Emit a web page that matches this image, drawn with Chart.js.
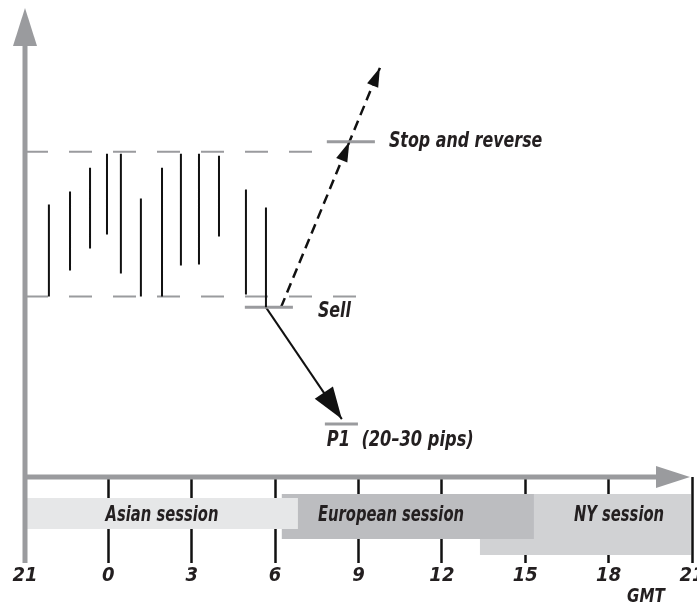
<!DOCTYPE html>
<html>
<head>
<meta charset="utf-8">
<script src="https://cdn.jsdelivr.net/npm/chart.js@4.4.0/dist/chart.umd.min.js"></script>
<style>
  html, body { margin: 0; padding: 0; background: #fff; }
  #wrap { width: 697px; height: 608px; }
</style>
</head>
<body>
<div id="wrap"><canvas id="chart"></canvas></div>
<script>
// x = hours after 21:00 GMT, y = price level (arbitrary units)
const hourTicks = [0, 3, 6, 9, 12, 15, 18, 21, 24];
const hourLabels = ['21', '0', '3', '6', '9', '12', '15', '18', '21'];

// Asian session price bars
const barHours = [0.86, 1.62, 2.34, 2.95, 3.45, 4.17, 4.93, 5.61, 6.26, 6.98, 7.95, 8.67];
const barHighs = [54.6, 57.2, 62.0, 64.8, 64.8, 55.8, 62.0, 64.8, 64.8, 64.4, 57.6, 54.0];
const barLows  = [36.2, 41.4, 45.8, 48.6, 40.8, 36.2, 36.2, 42.4, 42.6, 48.2, 36.6, 34.0];

// range box (dashed)
const rangeHigh = 65.2;
const rangeLow = 36.2;
const rangeHighEnd = 10.7;
const rangeLowEnd = 12.3;

// trade levels
const levelNames = ['Stop and reverse', 'Sell', 'P1  (20\u201330 pips)'];
const levelValues = [67.2, 34.0, 10.6];
const levelFrom = [10.86, 7.91, 10.79];
const levelTo = [12.59, 9.64, 11.98];

// arrows
const reverseX = [9.21, 12.77];
const reverseY = [34.0, 82.0];
const targetX = [8.67, 11.40];
const targetY = [34.0, 11.6];

// sessions
const sessionNames = ['Asian session', 'European session', 'NY session'];
const sessionStart = [0.0, 9.24, 16.37];
const sessionEnd = [9.82, 18.31, 23.96];
const sessionColors = ['#e6e7e8', '#bcbdc0', '#d1d2d4'];

const FONT = "'DejaVu Sans Condensed', 'DejaVu Sans', sans-serif";
const GRAY = '#9a9b9e';
const INK = '#231f20';

function pts(xs, ys) {
    return xs.map((x, i) => ({ x: x, y: ys[i] }));
}

const barData = [];
barHours.forEach((h, i) => {
    barData.push({ x: h, y: barHighs[i] }, { x: h, y: barLows[i] }, { x: h, y: null });
});

const levelData = [];
levelValues.forEach((v, i) => {
    levelData.push({ x: levelFrom[i], y: v }, { x: levelTo[i], y: v }, { x: levelTo[i], y: null });
});

function arrowHead(ctx, x1, y1, x2, y2, len, half) {
    const a = Math.atan2(y2 - y1, x2 - x1);
    ctx.beginPath();
    ctx.moveTo(x2, y2);
    ctx.lineTo(x2 - len * Math.cos(a) + half * Math.sin(a), y2 - len * Math.sin(a) - half * Math.cos(a));
    ctx.lineTo(x2 - len * Math.cos(a) - half * Math.sin(a), y2 - len * Math.sin(a) + half * Math.cos(a));
    ctx.closePath();
    ctx.fill();
}

// condensed bold italic text
function label(ctx, text, x, y, size, align, sx) {
    ctx.save();
    ctx.translate(x, y);
    ctx.scale(sx, 1);
    ctx.font = 'italic bold ' + size + 'px ' + FONT;
    ctx.textAlign = align;
    ctx.textBaseline = 'middle';
    ctx.fillStyle = INK;
    ctx.fillText(text, 0, 0);
    ctx.restore();
}

const decorPlugin = {
    id: 'decor',
    afterDatasetsDraw(chart) {
        const ctx = chart.ctx;
        const xs = chart.scales.x, ys = chart.scales.y;
        const area = chart.chartArea;
        const x0 = xs.getPixelForValue(0);
        const y0 = ys.getPixelForValue(0);
        ctx.save();

        // session bands (NY at the back, Asian in front)
        const bandTop = [y0 + 21, y0 + 17, y0 + 17];
        const bandBot = [y0 + 52, y0 + 62, y0 + 78];
        [2, 1, 0].forEach(i => {
            const l = xs.getPixelForValue(sessionStart[i]);
            const r = xs.getPixelForValue(sessionEnd[i]);
            ctx.fillStyle = sessionColors[i];
            ctx.fillRect(l, bandTop[i], r - l, bandBot[i] - bandTop[i]);
        });
        const labelX = [162, 391, 619];
        sessionNames.forEach((s, i) => label(ctx, s, labelX[i], y0 + 39, 21, 'center', 0.78));

        // axes
        ctx.strokeStyle = GRAY;
        ctx.fillStyle = GRAY;
        ctx.lineWidth = 5;
        ctx.beginPath();
        ctx.moveTo(x0, y0 + 86);
        ctx.lineTo(x0, area.top + 30);
        ctx.moveTo(x0, y0);
        ctx.lineTo(xs.getPixelForValue(24) - 30, y0);
        ctx.stroke();
        ctx.beginPath();
        ctx.moveTo(x0, area.top);
        ctx.lineTo(x0 - 12, area.top + 38);
        ctx.lineTo(x0 + 12, area.top + 38);
        ctx.closePath();
        ctx.fill();
        const xe = xs.getPixelForValue(24) - 2;
        ctx.beginPath();
        ctx.moveTo(xe, y0);
        ctx.lineTo(xe - 34, y0 - 11);
        ctx.lineTo(xe - 34, y0 + 11);
        ctx.closePath();
        ctx.fill();

        // arrow heads
        ctx.fillStyle = '#111';
        const rx1 = xs.getPixelForValue(reverseX[0]), ry1 = ys.getPixelForValue(reverseY[0]);
        const rx2 = xs.getPixelForValue(reverseX[1]), ry2 = ys.getPixelForValue(reverseY[1]);
        arrowHead(ctx, rx1, ry1, rx2, ry2, 19, 6);
        const stopY = ys.getPixelForValue(levelValues[0]);
        const f = (stopY - ry1) / (ry2 - ry1);
        arrowHead(ctx, rx1, ry1, rx1 + f * (rx2 - rx1), stopY, 20, 6);
        const tx1 = xs.getPixelForValue(targetX[0]), ty1 = ys.getPixelForValue(targetY[0]);
        const tx2 = xs.getPixelForValue(targetX[1]), ty2 = ys.getPixelForValue(targetY[1]);
        arrowHead(ctx, tx1, ty1, tx2, ty2, 32, 11);

        // level labels
        label(ctx, levelNames[0], xs.getPixelForValue(levelTo[0]) + 14, ys.getPixelForValue(levelValues[0]), 21, 'left', 0.84);
        label(ctx, levelNames[1], xs.getPixelForValue(levelTo[1]) + 25, ys.getPixelForValue(levelValues[1]) + 4, 21, 'left', 0.84);
        label(ctx, levelNames[2], xs.getPixelForValue(levelFrom[2]) + 2, ys.getPixelForValue(levelValues[2]) + 16, 21, 'left', 0.86);

        // GMT
        label(ctx, 'GMT', 646, y0 + 120, 20, 'center', 0.84);
        ctx.restore();
    }
};

new Chart(document.getElementById('chart'), {
    type: 'scatter',
    data: {
        datasets: [
            {
                data: barData,
                showLine: true,
                spanGaps: false,
                borderColor: '#111',
                borderWidth: 2,
                pointRadius: 0
            },
            {
                data: [{ x: 0, y: rangeHigh }, { x: rangeHighEnd, y: rangeHigh }],
                showLine: true,
                borderColor: GRAY,
                borderWidth: 2,
                borderDash: [23, 21],
                pointRadius: 0
            },
            {
                data: [{ x: 0, y: rangeLow }, { x: rangeLowEnd, y: rangeLow }],
                showLine: true,
                borderColor: GRAY,
                borderWidth: 2,
                borderDash: [23, 21],
                pointRadius: 0
            },
            {
                data: levelData,
                showLine: true,
                spanGaps: false,
                borderColor: GRAY,
                borderWidth: 3,
                pointRadius: 0
            },
            {
                data: pts(reverseX, reverseY),
                showLine: true,
                borderColor: '#111',
                borderWidth: 2.5,
                borderDash: [10, 6],
                pointRadius: 0
            },
            {
                data: pts(targetX, targetY),
                showLine: true,
                borderColor: '#111',
                borderWidth: 2,
                pointRadius: 0
            }
        ]
    },
    options: {
        responsive: true,
        maintainAspectRatio: false,
        animation: false,
        layout: { padding: { left: 25, right: 5, top: 8, bottom: 19 } },
        scales: {
            x: {
                type: 'linear',
                min: 0,
                max: 24,
                afterBuildTicks: (scale) => {
                    scale.ticks = hourTicks.map(v => ({ value: v }));
                },
                afterFit: (scale) => {
                    scale.paddingLeft = 0;
                    scale.paddingRight = 0;
                },
                border: { display: false },
                grid: {
                    drawOnChartArea: false,
                    drawTicks: true,
                    tickLength: 86,
                    tickWidth: 2.5,
                    tickColor: (c) => c.index === 0 ? 'rgba(0,0,0,0)' : '#111'
                },
                ticks: {
                    autoSkip: false,
                    maxRotation: 0,
                    padding: 1,
                    color: INK,
                    font: { family: FONT, size: 20, style: 'italic', weight: 'bold', lineHeight: 1.2 },
                    callback: (v) => hourLabels[hourTicks.indexOf(v)]
                }
            },
            y: {
                display: false,
                min: 0,
                max: 94
            }
        },
        plugins: {
            legend: { display: false },
            tooltip: { enabled: false }
        }
    },
    plugins: [decorPlugin]
});
</script>
</body>
</html>
